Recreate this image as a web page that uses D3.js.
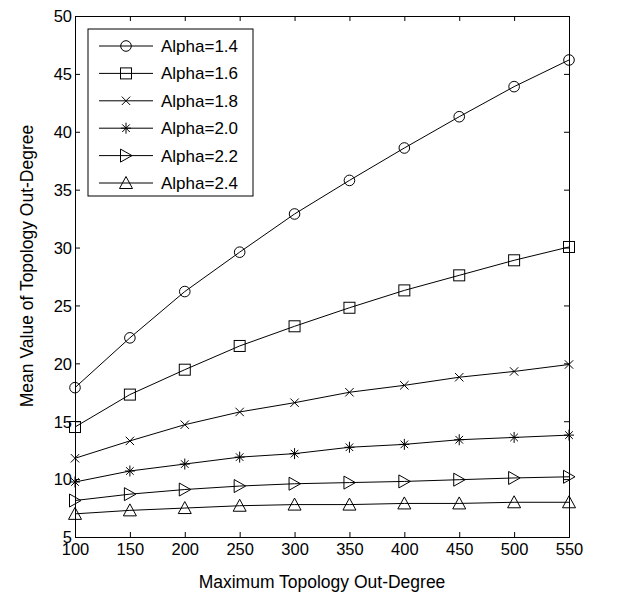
<!DOCTYPE html>
<html><head><meta charset="utf-8">
<script src="https://cdn.jsdelivr.net/npm/d3@7"></script>
<style>body{margin:0;background:#fff}svg{display:block}text{font-family:"Liberation Sans",Arial,sans-serif;fill:#000}</style>
</head><body><svg id="c" width="640" height="599"></svg>
<script>
const xValues = [100,150,200,250,300,350,400,450,500,550];
const seriesNames = ["Alpha=1.4","Alpha=1.6","Alpha=1.8","Alpha=2.0","Alpha=2.2","Alpha=2.4"];
const alpha14 = [17.9,22.2,26.2,29.6,32.9,35.8,38.6,41.3,43.9,46.2];
const alpha16 = [14.5,17.3,19.45,21.5,23.2,24.8,26.3,27.6,28.9,30.05];
const alpha18 = [11.8,13.3,14.7,15.8,16.6,17.5,18.1,18.8,19.3,19.9];
const alpha20 = [9.75,10.7,11.3,11.9,12.2,12.75,13.0,13.4,13.6,13.8];
const alpha22 = [8.15,8.7,9.1,9.4,9.6,9.7,9.8,9.95,10.1,10.2];
const alpha24 = [7.0,7.3,7.5,7.7,7.8,7.8,7.9,7.9,8.0,8.0];
const xTicks = [100,150,200,250,300,350,400,450,500,550];
const yTicks = [5,10,15,20,25,30,35,40,45,50];
const markers = ["circle","square","x","star","triRight","triUp"];
const allSeries = [alpha14,alpha16,alpha18,alpha20,alpha22,alpha24];

const L=75,R=569,T=16,B=537;
const svg=d3.select("#c");
const x=d3.scaleLinear().domain([100,550]).range([L,R]);
const y=d3.scaleLinear().domain([5,50]).range([B,T]);

function drawMarker(g,type,cx,cy){
  const s=g.append("g").attr("transform",`translate(${cx},${cy})`).attr("fill","none").attr("stroke","#000").attr("stroke-width",1);
  if(type==="circle") s.append("circle").attr("r",5.3);
  else if(type==="square") s.append("rect").attr("x",-5.5).attr("y",-5.5).attr("width",11).attr("height",11);
  else if(type==="x"){ s.append("path").attr("d","M-4.2,-4.2L4.2,4.2M-4.2,4.2L4.2,-4.2"); }
  else if(type==="star"){ s.append("path").attr("d","M-5,0L5,0M0,-5.5L0,5.5M-3.8,-3.8L3.8,3.8M-3.8,3.8L3.8,-3.8"); }
  else if(type==="triRight") s.append("path").attr("d","M-5.5,-6.5L6,0L-5.5,6.5Z");
  else if(type==="triUp") s.append("path").attr("d","M0,-6.5L6.5,5.5L-6.5,5.5Z");
}

const fnt="Liberation Sans, Arial, sans-serif";
const gx=svg.append("g").attr("transform",`translate(0,${B})`).call(d3.axisBottom(x).tickValues(xTicks).tickSize(-5).tickPadding(6).tickFormat(d3.format("d")));
const gxt=svg.append("g").attr("transform",`translate(0,${T})`).call(d3.axisTop(x).tickValues(xTicks).tickSize(-5).tickFormat(""));
const gy=svg.append("g").attr("transform",`translate(${L},0)`).call(d3.axisLeft(y).tickValues(yTicks).tickSize(-5).tickPadding(3).tickFormat(d3.format("d")));
const gyr=svg.append("g").attr("transform",`translate(${R},0)`).call(d3.axisRight(y).tickValues(yTicks).tickSize(-5).tickFormat(""));
[gx,gxt,gy,gyr].forEach(g=>{g.select(".domain").attr("stroke","#000");g.selectAll(".tick line").attr("stroke","#000");g.selectAll("text").attr("font-size",16.5).attr("font-family",fnt).attr("fill","#000");});
gy.selectAll(".tick text").attr("dy","0.35em");

const line=d3.line().x((d,i)=>x(xValues[i])).y(d=>y(d));
const plot=svg.append("g");
allSeries.forEach((s,k)=>{
  plot.append("path").attr("d",line(s)).attr("fill","none").attr("stroke","#000").attr("stroke-width",1);
  s.forEach((v,i)=>drawMarker(plot,markers[k],x(xValues[i]),y(v)));
});

const lg=svg.append("g");
const lx=88,ly=29,lw=165,lh=167;
lg.append("rect").attr("x",lx).attr("y",ly).attr("width",lw).attr("height",lh).attr("fill","#fff").attr("stroke","#000");
seriesNames.forEach((n,k)=>{
  const yy=ly+17+k*27.4;
  lg.append("line").attr("x1",lx+11).attr("x2",lx+65).attr("y1",yy).attr("y2",yy).attr("stroke","#000");
  drawMarker(lg,markers[k],lx+38,yy);
  lg.append("text").attr("x",lx+73).attr("y",yy).attr("dy","0.35em").attr("font-size",17).text(n);
});

svg.append("text").attr("x",(L+R)/2).attr("y",582).attr("dy","0.35em").attr("text-anchor","middle").attr("font-size",17.5).text("Maximum Topology Out-Degree");
svg.append("text").attr("transform",`translate(33,266) rotate(-90)`).attr("text-anchor","middle").attr("font-size",17.5).text("Mean Value of Topology Out-Degree");
</script></body></html>
